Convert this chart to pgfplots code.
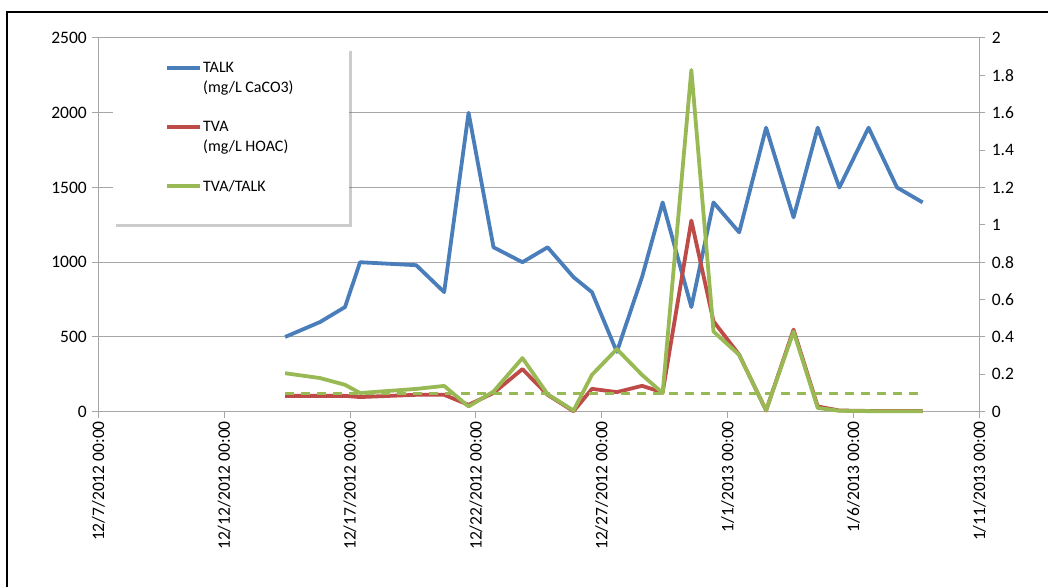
\documentclass[border=0pt]{standalone}
\usepackage{pgfplots}
\pgfplotsset{compat=1.18}
\usepackage{fontspec}
\setmainfont{Carlito}
\usetikzlibrary{shadows}

\definecolor{talkblue}{HTML}{4A7EBB}
\definecolor{tvared}{HTML}{BE4B48}
\definecolor{ratiogreen}{HTML}{98B954}
\definecolor{gridgray}{HTML}{A6A6A6}

\pgfplotstableread{
day    talk  tva   ratio
7.42   500   106   0.206
8.81   600   106   0.180
9.80   700   106   0.144
10.40  1000  98    0.100
12.63  980   113   0.122
13.74  800   113   0.138
14.71  2000  46    0.028
15.70  1100  125   0.108
16.85  1000  285   0.287
17.85  1100  113   0.094
18.88  900   3     0.006
19.61  800   153   0.197
20.60  400   131   0.335
21.60  900   173   0.197
22.42  1400  129   0.100
23.56  700   1279  1.829
24.44  1400  605   0.429
25.46  1200  381   0.304
26.53  1900  8     0.008
27.62  1300  549   0.429
28.58  1900  35    0.020
29.44  1500  8     0.005
30.60  1900  5     0.003
31.73  1500  5     0.002
32.75  1400  5     0.002
}\datatable

\pgfplotstableread{
day    ref
7.42   0.1
32.75  0.1
}\reftable

\newcommand{\tickfont}{\fontsize{17.5}{21}\selectfont}
\newcommand{\legfont}{\fontsize{16}{19.5}\selectfont}

\begin{document}
\begin{tikzpicture}[x=1pt,y=1pt]
\draw[line width=1.3pt,black] (7,0) -- (7,575) -- (1048,575);

\begin{axis}[
  at={(98.3pt,175.3pt)}, anchor=south west,
  scale only axis, width=881pt, height=373.7pt,
  xmin=0, xmax=35, ymin=0, ymax=2500,
  axis x line*=bottom, axis y line*=left,
  axis line style={gridgray, line width=1pt},
  xtick={0,5,10,15,20,25,30,35},
  xticklabels={12/7/2012 00:00,12/12/2012 00:00,12/17/2012 00:00,12/22/2012 00:00,12/27/2012 00:00,1/1/2013 00:00,1/6/2013 00:00,1/11/2013 00:00},
  xticklabel style={rotate=90, anchor=east, font=\tickfont},
  ytick={0,500,1000,1500,2000,2500},
  yticklabel style={font=\tickfont, xshift=-2pt},
  /pgf/number format/assume math mode=true,
  /pgf/number format/1000 sep={},
  tick align=outside, major tick length=6pt,
  tick style={gridgray, line width=1pt},
  ymajorgrids, grid style={gridgray, line width=1pt},
  clip=false,
]
\addplot[talkblue, line width=3.8pt, line join=round] table[x=day,y=talk]{\datatable};
\addplot[tvared, line width=3.8pt, line join=round] table[x=day,y=tva]{\datatable};
\end{axis}

\begin{axis}[
  at={(98.3pt,175.3pt)}, anchor=south west,
  scale only axis, width=881pt, height=373.7pt,
  xmin=0, xmax=35, ymin=0, ymax=2,
  axis x line=none, axis y line*=right,
  axis line style={gridgray, line width=1pt},
  ytick={0,0.2,0.4,0.6,0.8,1,1.2,1.4,1.6,1.8,2},
  yticklabel style={font=\tickfont, xshift=3pt},
  /pgf/number format/assume math mode=true,
  tick align=outside, major tick length=6pt,
  tick style={gridgray, line width=1pt},
  clip=false,
]
\addplot[ratiogreen, line width=3.8pt, line join=round] table[x=day,y=ratio]{\datatable};
\addplot[ratiogreen, line width=3pt, dash pattern=on 9pt off 7pt] table[x=day,y=ref]{\reftable};
\end{axis}

% legend
\node[fill=white, inner sep=0pt, minimum width=236pt, minimum height=176pt,
      anchor=north west, drop shadow={shadow xshift=3pt, shadow yshift=-3pt, opacity=0.4}]
      at (113,539) {};
\draw[talkblue, line width=3.8pt] (167,519.3) -- (200,519.3);
\draw[tvared, line width=3.8pt] (167,460) -- (200,460);
\draw[ratiogreen, line width=3.8pt] (167,401) -- (200,401);
\node[anchor=base west, inner sep=0pt, font=\legfont] at (203,514)
  {\begin{tabular}[t]{@{}l@{}}TALK\\(mg/L CaCO3)\end{tabular}};
\node[anchor=base west, inner sep=0pt, font=\legfont] at (203,455)
  {\begin{tabular}[t]{@{}l@{}}TVA\\(mg/L HOAC)\end{tabular}};
\node[anchor=base west, inner sep=0pt, font=\legfont] at (203,395) {TVA/TALK};

\pgfresetboundingbox
\useasboundingbox (0,0) rectangle (1048,587);
\end{tikzpicture}
\end{document}
